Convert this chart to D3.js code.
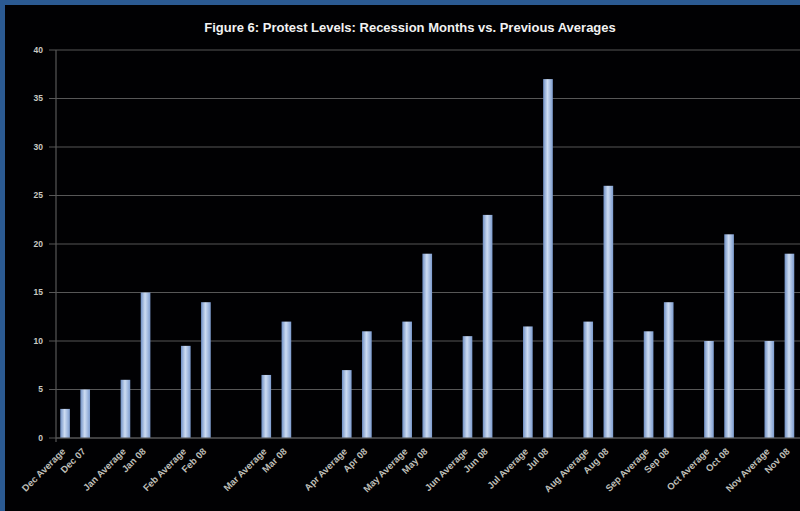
<!DOCTYPE html>
<html>
<head>
<meta charset="utf-8">
<script src="https://cdn.jsdelivr.net/npm/d3@7"></script>
<style>
  html, body { margin: 0; padding: 0; background: #000; }
  svg { display: block; }
</style>
</head>
<body>
<svg width="800" height="511"></svg>
<script>
// slots along the x axis, blank ones are the gaps between pairs
var categories = [
  "Dec Average", "Dec 07", "",
  "Jan Average", "Jan 08", "",
  "Feb Average", "Feb 08", "", "",
  "Mar Average", "Mar 08", "", "",
  "Apr Average", "Apr 08", "",
  "May Average", "May 08", "",
  "Jun Average", "Jun 08", "",
  "Jul Average", "Jul 08", "",
  "Aug Average", "Aug 08", "",
  "Sep Average", "Sep 08", "",
  "Oct Average", "Oct 08", "",
  "Nov Average", "Nov 08"
];
var values = [
  3, 5, null,
  6, 15, null,
  9.5, 14, null, null,
  6.5, 12, null, null,
  7, 11, null,
  12, 19, null,
  10.5, 23, null,
  11.5, 37, null,
  12, 26, null,
  11, 14, null,
  10, 21, null,
  10, 19
];
var yTicks = [0, 5, 10, 15, 20, 25, 30, 35, 40];
var title = "Figure 6: Protest Levels: Recession Months vs. Previous Averages";

var svg = d3.select("svg");
var W = 800, H = 511;

// frame
svg.append("rect").attr("width", W).attr("height", H).attr("fill", "#2b5a92");
svg.append("rect").attr("x", 5).attr("y", 5).attr("width", W - 5).attr("height", H - 5)
  .attr("fill", "#010103");

var defs = svg.append("defs");
var grad = defs.append("linearGradient").attr("id", "barGrad")
  .attr("x1", "0%").attr("x2", "100%").attr("y1", "0%").attr("y2", "0%");
grad.append("stop").attr("offset", "0%").attr("stop-color", "#6f8fc4");
grad.append("stop").attr("offset", "45%").attr("stop-color", "#cddcf2");
grad.append("stop").attr("offset", "100%").attr("stop-color", "#7d9ccf");

var x = d3.scaleBand()
  .domain(d3.range(categories.length))
  .range([55, 799.5])
  .paddingInner(0.52)
  .paddingOuter(0.26);

var y = d3.scaleLinear().domain([0, 40]).range([438, 50]);

// gridlines
svg.append("g").selectAll("line").data(yTicks).enter().append("line")
  .attr("x1", 49).attr("x2", W)
  .attr("y1", function(d) { return y(d); })
  .attr("y2", function(d) { return y(d); })
  .attr("stroke", "#575757").attr("stroke-width", 1.2);

// y axis line
svg.append("line").attr("x1", 56).attr("x2", 56).attr("y1", y(40)).attr("y2", y(0) + 4)
  .attr("stroke", "#575757").attr("stroke-width", 1.2);

// y tick labels
svg.append("g").selectAll("text").data(yTicks).enter().append("text")
  .attr("x", 43)
  .attr("y", function(d) { return y(d); })
  .attr("dy", "0.35em")
  .attr("text-anchor", "end")
  .attr("fill", "#c9c9c2")
  .attr("font-family", "Liberation Sans, Arial, sans-serif")
  .attr("font-weight", "bold")
  .attr("font-size", 8.5)
  .text(function(d) { return d; });

// bars
var barData = values.map(function(v, i) { return { i: i, v: v }; })
  .filter(function(d) { return d.v !== null; });

svg.append("g").selectAll("rect").data(barData).enter().append("rect")
  .attr("x", function(d) { return x(d.i); })
  .attr("width", x.bandwidth())
  .attr("y", function(d) { return y(d.v); })
  .attr("height", function(d) { return y(0) - y(d.v); })
  .attr("fill", "url(#barGrad)");

// x axis line
svg.append("line").attr("x1", 56).attr("x2", W).attr("y1", y(0)).attr("y2", y(0))
  .attr("stroke", "#575757").attr("stroke-width", 1.2);

// x labels, rotated
svg.append("g").selectAll("text").data(categories.map(function(c, i) { return { i: i, c: c }; }))
  .enter().append("text")
  .attr("transform", function(d) {
    return "translate(" + (x(d.i) + x.bandwidth() / 2 + 1) + "," + (y(0) + 14) + ") rotate(-45)";
  })
  .attr("text-anchor", "end")
  .attr("fill", "#bdbdb6")
  .attr("font-family", "Liberation Sans, Arial, sans-serif")
  .attr("font-weight", "bold")
  .attr("font-size", 9.5)
  .text(function(d) { return d.c; });

// title
svg.append("text")
  .attr("x", 410).attr("y", 32)
  .attr("text-anchor", "middle")
  .attr("fill", "#f2f2f2")
  .attr("font-family", "Liberation Sans, Arial, sans-serif")
  .attr("font-weight", "bold")
  .attr("font-size", 13)
  .text(title);
</script>
</body>
</html>
